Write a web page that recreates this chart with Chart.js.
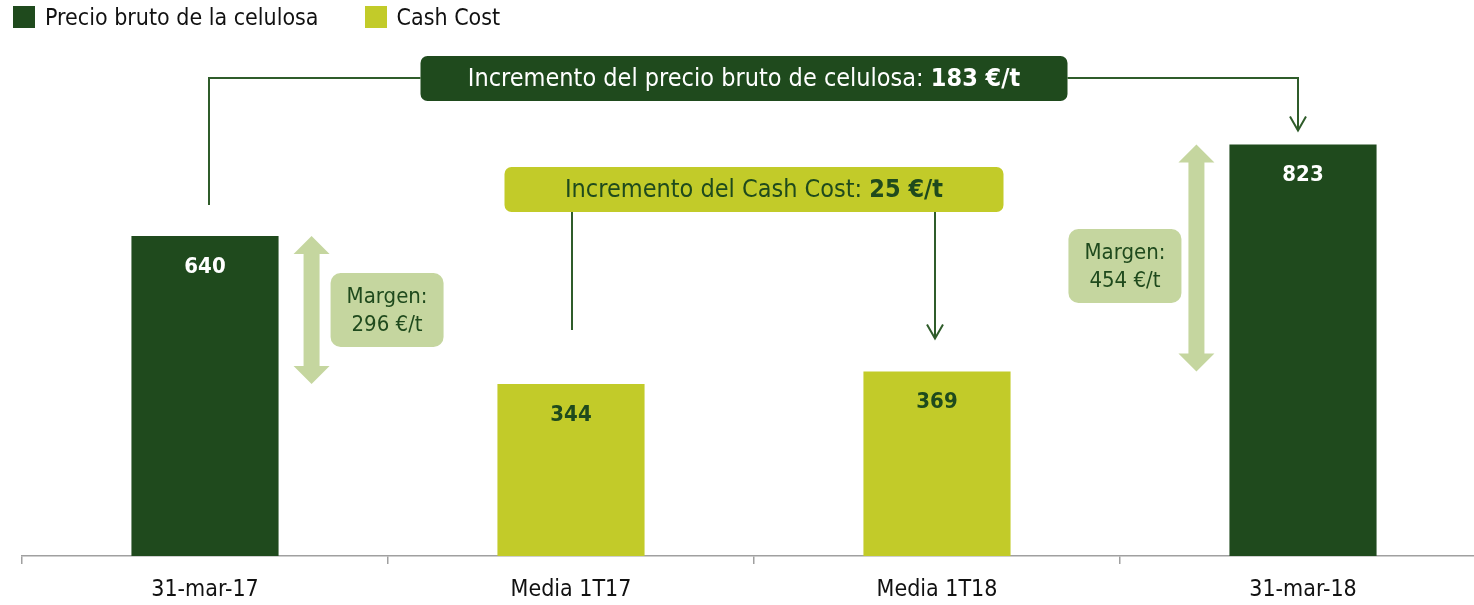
<!DOCTYPE html>
<html>
<head>
<meta charset="utf-8">
<script src="https://cdn.jsdelivr.net/npm/chart.js@4.4.1/dist/chart.umd.min.js"></script>
<style>
  html, body { margin: 0; padding: 0; background: #fff; overflow: hidden; }
  #wrap { position: relative; width: 1474px; height: 605px; overflow: hidden; }
  #legend { position: absolute; left: 13px; top: 4px; display: flex; font-family: 'Liberation Sans Narrow', 'Arial Narrow', 'DejaVu Sans Condensed', sans-serif; font-size: 23px; color: #111; }
  #legend .item { display: flex; align-items: center; margin-right: 46px; }
  #legend .box { width: 22px; height: 22px; margin-right: 10px; }
</style>
</head>
<body>
<div id="wrap">
  <canvas id="priceChart"></canvas>
  <div id="legend"></div>
</div>
<script>
  const categories = ["31-mar-17", "Media 1T17", "Media 1T18", "31-mar-18"];
  const precioBruto = [640, null, null, 823];
  const cashCost = [null, 344, 369, null];
  const seriesNames = ["Precio bruto de la celulosa", "Cash Cost"];

  const FONT = "'Liberation Sans Narrow', 'Arial Narrow', 'DejaVu Sans Condensed', sans-serif";
  const darkGreen = "#1f4a1d";
  const limeGreen = "#c2cb29";
  const paleGreen = "#c5d69f";
  const lineGreen = "#2f5c2a";

  function roundRect(ctx, x, y, w, h, r, color) {
    ctx.beginPath();
    ctx.roundRect(x, y, w, h, r);
    ctx.fillStyle = color;
    ctx.fill();
  }

  // text with a normal part and a bold part, centred on cx
  function mixedText(ctx, cx, cy, normal, bold, size, color) {
    ctx.font = size + "px " + FONT;
    const w1 = ctx.measureText(normal).width;
    ctx.font = "bold " + size + "px " + FONT;
    const w2 = ctx.measureText(bold).width;
    let x = cx - (w1 + w2) / 2;
    ctx.fillStyle = color;
    ctx.textAlign = "left";
    ctx.textBaseline = "middle";
    ctx.font = size + "px " + FONT;
    ctx.fillText(normal, x, cy);
    ctx.font = "bold " + size + "px " + FONT;
    ctx.fillText(bold, x + w1, cy);
  }

  function arrowHead(ctx, x, y) {
    ctx.beginPath();
    ctx.moveTo(x - 8, y - 14);
    ctx.lineTo(x, y);
    ctx.lineTo(x + 8, y - 14);
    ctx.stroke();
  }

  function doubleArrow(ctx, x, yTop, yBot) {
    const shaft = 8, head = 18, headH = 18;
    ctx.beginPath();
    ctx.moveTo(x, yTop);
    ctx.lineTo(x + head, yTop + headH);
    ctx.lineTo(x + shaft, yTop + headH);
    ctx.lineTo(x + shaft, yBot - headH);
    ctx.lineTo(x + head, yBot - headH);
    ctx.lineTo(x, yBot);
    ctx.lineTo(x - head, yBot - headH);
    ctx.lineTo(x - shaft, yBot - headH);
    ctx.lineTo(x - shaft, yTop + headH);
    ctx.lineTo(x - head, yTop + headH);
    ctx.closePath();
    ctx.fillStyle = paleGreen;
    ctx.fill();
  }

  function marginBox(ctx, x, cy, value) {
    roundRect(ctx, x, cy - 37, 113, 74, 10, paleGreen);
    ctx.fillStyle = darkGreen;
    ctx.font = "22px " + FONT;
    ctx.textAlign = "center";
    ctx.textBaseline = "middle";
    ctx.fillText("Margen:", x + 56.5, cy - 13);
    ctx.fillText(value + " €/t", x + 56.5, cy + 15);
  }

  const annotations = {
    id: "annotations",
    afterDatasetsDraw(chart) {
      const ctx = chart.ctx;
      const xs = chart.scales.x, ys = chart.scales.y;
      const bar0 = chart.getDatasetMeta(0).data;
      const bar1 = chart.getDatasetMeta(1).data;
      ctx.save();

      // value labels inside the bars
      ctx.textAlign = "center";
      ctx.textBaseline = "middle";
      ctx.font = "bold 22px " + FONT;
      [[bar0, precioBruto, "#ffffff"], [bar1, cashCost, darkGreen]].forEach(([bars, vals, col]) => {
        bars.forEach((b, i) => {
          if (vals[i] == null) return;
          ctx.fillStyle = col;
          ctx.fillText(vals[i], b.x, b.y + 31);
        });
      });

      const bw = bar0[0].width;
      const midX = (xs.getPixelForValue(1) + xs.getPixelForValue(2)) / 2;

      // price increase connector
      const top = chart.chartArea.top;
      const lineY = top + 22;
      const b1w = 647;
      const b1x = midX - 10 - b1w / 2;
      ctx.strokeStyle = lineGreen;
      ctx.lineWidth = 2;
      ctx.beginPath();
      ctx.moveTo(bar0[0].x + 4, ys.getPixelForValue(precioBruto[0]) - 31);
      ctx.lineTo(bar0[0].x + 4, lineY);
      ctx.lineTo(b1x, lineY);
      ctx.moveTo(b1x + b1w, lineY);
      ctx.lineTo(bar0[3].x - 5, lineY);
      const tip1 = ys.getPixelForValue(precioBruto[3]) - 14;
      ctx.lineTo(bar0[3].x - 5, tip1);
      ctx.stroke();
      arrowHead(ctx, bar0[3].x - 5, tip1);
      roundRect(ctx, b1x, top, b1w, 45, 7, darkGreen);
      mixedText(ctx, b1x + b1w / 2, top + 23, "Incremento del precio bruto de celulosa: ",
        (precioBruto[3] - precioBruto[0]) + " €/t", 25, "#ffffff");

      // cash cost connector
      const b2w = 499, b2y = top + 111, b2h = 45;
      const b2x = midX - b2w / 2;
      ctx.beginPath();
      ctx.moveTo(bar1[1].x + 1, b2y + b2h);
      ctx.lineTo(bar1[1].x + 1, ys.getPixelForValue(cashCost[1]) - 54);
      const tip2 = ys.getPixelForValue(cashCost[2]) - 33;
      ctx.moveTo(bar1[2].x - 2, b2y + b2h);
      ctx.lineTo(bar1[2].x - 2, tip2);
      ctx.stroke();
      arrowHead(ctx, bar1[2].x - 2, tip2);
      roundRect(ctx, b2x, b2y, b2w, b2h, 7, limeGreen);
      mixedText(ctx, midX, b2y + 23, "Incremento del Cash Cost: ",
        (cashCost[2] - cashCost[1]) + " €/t", 25, darkGreen);

      // margin arrows
      const a1x = bar0[0].x + bw / 2 + 33;
      const a1t = ys.getPixelForValue(precioBruto[0]), a1b = ys.getPixelForValue(cashCost[1]);
      doubleArrow(ctx, a1x, a1t, a1b);
      marginBox(ctx, a1x + 19, (a1t + a1b) / 2, precioBruto[0] - cashCost[1]);

      const a2x = bar0[3].x - bw / 2 - 33;
      const a2t = ys.getPixelForValue(precioBruto[3]), a2b = ys.getPixelForValue(cashCost[2]);
      doubleArrow(ctx, a2x, a2t, a2b);
      marginBox(ctx, a2x - 128, (a2t + a2b) / 2 + 8, precioBruto[3] - cashCost[2]);

      ctx.restore();
    }
  };

  const canvas = document.getElementById("priceChart");
  canvas.width = 1490;
  canvas.height = 605;
  const chart = new Chart(canvas.getContext("2d"), {
    type: "bar",
    data: {
      labels: categories,
      datasets: [
        { label: seriesNames[0], data: precioBruto, backgroundColor: darkGreen },
        { label: seriesNames[1], data: cashCost, backgroundColor: limeGreen }
      ]
    },
    options: {
      responsive: false,
      animation: false,
      skipNull: true,
      categoryPercentage: 1,
      barPercentage: 0.402,
      layout: { padding: { top: 56, right: 4, bottom: 0, left: 0 } },
      scales: {
        x: {
          afterFit(scale) { scale.height = 49; },
          grid: { display: true, drawOnChartArea: false, offset: true, tickLength: 8, color: "#a0a0a0", lineWidth: 1.5 },
          border: { display: true, color: "#a0a0a0", width: 1.5 },
          ticks: { color: "#111", padding: 12, font: { family: FONT, size: 23 } }
        },
        y: {
          min: 0,
          max: 1000,
          afterFit(scale) { scale.width = 22; },
          ticks: { display: false },
          grid: { display: false },
          border: { display: false }
        }
      },
      plugins: {
        legend: { display: false },
        tooltip: { enabled: false }
      }
    },
    plugins: [annotations]
  });

  // html legend built from the datasets
  const legendEl = document.getElementById("legend");
  chart.data.datasets.forEach(ds => {
    const item = document.createElement("div");
    item.className = "item";
    const box = document.createElement("span");
    box.className = "box";
    box.style.background = ds.backgroundColor;
    const txt = document.createElement("span");
    txt.textContent = ds.label;
    item.appendChild(box);
    item.appendChild(txt);
    legendEl.appendChild(item);
  });
</script>
</body>
</html>
